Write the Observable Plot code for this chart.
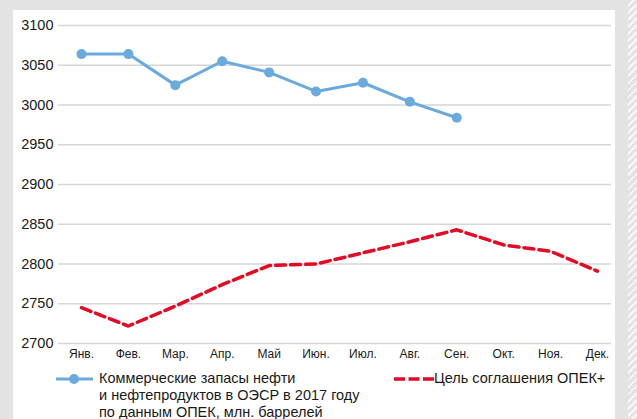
<!DOCTYPE html>
<html>
<head>
<meta charset="utf-8">
<script src="https://cdn.jsdelivr.net/npm/d3@7"></script>
<script src="https://cdn.jsdelivr.net/npm/@observablehq/plot@0.6"></script>
<style>
  html, body { margin: 0; padding: 0; }
  body {
    width: 637px; height: 419px; position: relative; overflow: hidden;
    background: #e3e3e3;
    font-family: "Liberation Sans", Arial, sans-serif;
    color: #1a1a1a;
  }
  #panel { position: absolute; left: 13px; top: 10px; width: 602px; height: 409px; background: #fff; }
  #hatch {
    position: absolute; left: 628px; top: 0; width: 9px; height: 419px;
    background: repeating-linear-gradient(135deg, #e3e3e3 0 3px, #f7f7f7 3px 5px);
  }
  #chart { position: absolute; left: 0; top: 0; }
  .leg { position: absolute; font-size: 14.5px; line-height: 17px; white-space: nowrap; }
  .leg svg { position: absolute; overflow: visible; }
</style>
</head>
<body>
<div id="panel"></div>
<div id="hatch"></div>
<div id="chart"></div>
<div class="leg" id="leg1" style="left:56px; top:370px;">
  <svg width="37" height="10" style="left:0; top:3.5px;">
    <line x1="0" x2="37" y1="5" y2="5" stroke="#6aaadd" stroke-width="3"></line>
    <circle cx="18" cy="5" r="5" fill="#6aaadd"></circle>
  </svg>
  <div style="position:absolute; left:43px; top:0;">Коммерческие запасы нефти<br>и нефтепродуктов в ОЭСР в 2017 году<br>по данным ОПЕК, млн. баррелей</div>
</div>
<div class="leg" id="leg2" style="left:394px; top:370px;">
  <svg width="40" height="10" style="left:0; top:3.5px;">
    <line x1="0" x2="40" y1="5" y2="5" stroke="#e30a24" stroke-width="3.5" stroke-dasharray="11,3.5"></line>
  </svg>
  <div style="position:absolute; left:40px; top:0;">Цель соглашения ОПЕК+</div>
</div>
<script>
// Months of 2017
const months = ["Янв.", "Фев.", "Мар.", "Апр.", "Май", "Июн.", "Июл.", "Авг.", "Сен.", "Окт.", "Ноя.", "Дек."];
// Commercial oil & product stocks in OECD (OPEC data), mln barrels, Jan–Sep
const stocks = [3064, 3064, 3025, 3055, 3041, 3017, 3028, 3004, 2984];
// OPEC+ agreement target path, mln barrels
const target = [2745, 2722, 2747, 2774, 2798, 2800, 2814, 2828, 2843, 2824, 2816, 2791];
// Y axis ticks
const yTicks = [2700, 2750, 2800, 2850, 2900, 2950, 3000, 3050, 3100];

const stockData = stocks.map((v, i) => ({month: months[i], value: v}));
const targetData = target.map((v, i) => ({month: months[i], value: v}));

const chart = Plot.plot({
  width: 637,
  height: 365,
  marginLeft: 58,
  marginRight: 26,
  marginTop: 25,
  marginBottom: 22,
  style: {background: "transparent", fontFamily: "Liberation Sans, Arial, sans-serif", color: "#1a1a1a", overflow: "visible"},
  x: {type: "point", domain: months, range: [81, 597], padding: 0, round: false, label: null},
  y: {domain: [2700, 3100], label: null},
  marks: [
    Plot.ruleY(yTicks, {stroke: "#d6d6d6", strokeWidth: 1.4}),
    Plot.axisY(yTicks, {tickSize: 0, tickPadding: 5, fontSize: 14.5, tickFormat: d => String(d), label: null}),
    Plot.axisX({tickSize: 0, tickPadding: 6, fontSize: 12, label: null}),
    Plot.line(targetData, {x: "month", y: "value", stroke: "#e30a24", strokeWidth: 3.5, strokeDasharray: "10,5"}),
    Plot.line(stockData, {x: "month", y: "value", stroke: "#6aaadd", strokeWidth: 3}),
    Plot.dot(stockData, {x: "month", y: "value", r: 5, fill: "#6aaadd", stroke: "none"})
  ]
});
document.getElementById("chart").appendChild(chart);
</script>
</body>
</html>
